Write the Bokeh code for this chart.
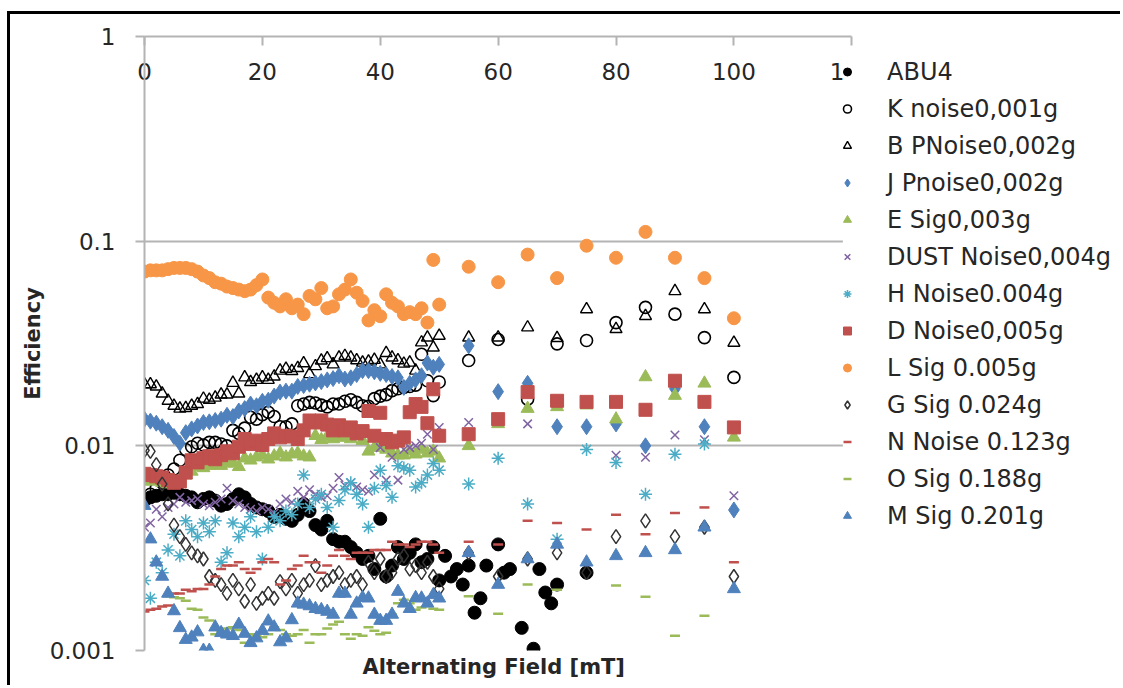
import numpy as np
from bokeh.plotting import figure
from bokeh.models import FixedTicker, Legend, LegendItem, Range1d, BoxAnnotation, Title
from bokeh.embed import file_html
from bokeh.resources import INLINE

nan = float("nan")

# x positions (mT)
X_DENSE = list(range(0, 51))
X_SPARSE = [55, 60, 65, 70, 75, 80, 85, 90, 95, 100]
X_ABU4 = list(range(0, 51)) + [51, 52, 53, 54, 55, 56, 57, 58, 60, 61, 62, 64, 66, 67, 68, 69, 70, 75]
X_TICKS = [0, 20, 40, 60, 80, 100, 120]
X_AXIS_END = 120
Y_TICKS = [0.001, 0.01, 0.1, 1]
Y_LABELS = ["0.001", "0.01", "0.1", "1"]

ABU4 = [0.0054, 0.0056, 0.0057, 0.0058, 0.0058, 0.0059, 0.0058, 0.0057, 0.0056, 0.0053,
        0.0055, 0.0056, 0.0054, 0.0051, 0.0052, 0.0055, 0.0058, 0.0056, 0.0052, 0.0050,
        0.0049, 0.0048, 0.0045, 0.0046, 0.0044, 0.0043, 0.0046, 0.0052, 0.0048, 0.0041,
        0.0039, 0.0043, 0.0035, 0.0034, 0.0034, 0.0032, 0.0030, 0.0028, 0.0029, 0.0025,
        0.0044, 0.0023, 0.0026, 0.0032, 0.0028, 0.0030, 0.0033, 0.0027, 0.0028, 0.0032,
        0.0022,
        0.0029, 0.0023, 0.0025, 0.0021, 0.0026, 0.00153, 0.0018, 0.0026, 0.0033, 0.0024,
        0.0025, 0.00129, 0.00102, 0.0025, 0.00192, 0.0017, 0.0021, 0.0024]

K_DENSE = [0.0055, 0.0058, 0.0062, 0.0066, 0.0072, 0.0077, 0.0085, 0.0096, 0.0099, 0.0103,
           0.0101, 0.0104, 0.0104, 0.0102, 0.0100, 0.0119, 0.0115, 0.0122, 0.0138, 0.0135,
           0.0142, 0.0146, 0.0139, 0.0124, 0.0124, 0.0128, 0.0157, 0.0160, 0.0163, 0.0162,
           0.0158, 0.0155, 0.0160, 0.0160, 0.0165, 0.0168, 0.0163, 0.0157, 0.0156, 0.0170,
           0.0175, 0.0178, 0.0186, 0.0190, 0.0193, 0.0195, 0.0198, 0.0280, 0.0208, 0.0176,
           0.0205]
K_SPARSE = [0.0261, 0.0331, 0.0169, 0.0315, 0.0327, 0.0400, 0.0475, 0.0440, 0.0338, 0.0216]

B_DENSE = [0.0200, 0.0200, 0.0195, 0.0180, 0.0166, 0.0157, 0.0152, 0.0153, 0.0157, 0.0160,
           0.0170, 0.0168, 0.0172, 0.0178, 0.0178, 0.0203, 0.0180, 0.0216, 0.0205, 0.0210,
           0.0216, 0.0210, 0.0218, 0.0233, 0.0238, 0.0232, 0.0240, 0.0253, 0.0224, 0.0245,
           0.0261, 0.0268, 0.0250, 0.0270, 0.0275, 0.0270, 0.0262, 0.0255, 0.0258, 0.0263,
           0.0250, 0.0284, 0.0270, 0.0262, 0.0252, 0.0255, 0.0233, 0.0320, 0.0338, 0.0302,
           0.0345]
B_SPARSE = [0.0338, 0.0338, 0.0379, 0.0336, 0.0465, 0.0372, 0.0431, 0.0570, 0.0465, 0.0319]

J_DENSE = [0.0135, 0.0132, 0.0129, 0.0124, 0.0119, 0.0111, 0.0103, 0.0116, 0.0121, 0.0125,
           0.0130, 0.0131, 0.0133, 0.0135, 0.0141, 0.0139, 0.0148, 0.0152, 0.0160, 0.0157,
           0.0165, 0.0167, 0.0175, 0.0183, 0.0185, 0.0185, 0.0195, 0.0197, 0.0200, 0.0203,
           0.0206, 0.0210, 0.0213, 0.0220, 0.0212, 0.0215, 0.0223, 0.0233, 0.0233, 0.0230,
           0.0226, 0.0223, 0.0218, 0.0215, 0.0193, 0.0202, 0.0210, 0.0220, 0.0254, 0.0242,
           0.0250]
J_SPARSE = [0.0308, 0.0184, 0.0202, 0.0124, 0.0124, 0.0128, 0.0100, 0.0190, 0.0124, 0.00486]

E_DENSE = [0.0068, 0.0067, 0.0068, 0.0066, 0.0065, 0.0066, 0.0068, 0.0072, 0.0075, 0.0079,
           0.0078, 0.0080, 0.0081, 0.0080, 0.0082, 0.0083, 0.0079, 0.0087, 0.0085, 0.0088,
           0.0090, 0.0086, 0.0089, 0.0092, 0.0088, 0.0091, 0.0092, 0.0089, 0.0088, 0.0112,
           0.0107, 0.0111, 0.0108, 0.0110, 0.0110, 0.0108, 0.0112, 0.0106, 0.0094, 0.0098,
           0.0101, 0.0096, 0.0092, 0.0090, 0.0090, 0.0094, 0.0091, 0.0096, 0.0092, 0.0094,
           0.0087]
E_SPARSE = [0.0100, 0.0128, 0.0152, 0.0155, 0.0158, 0.0135, 0.0217, 0.0176, 0.0202, 0.0110]

DUST_DENSE = [0.0040, 0.0042, 0.0049, 0.0045, 0.0050, 0.0052, 0.0056, 0.0053, 0.0054, 0.0055,
              0.0052, 0.0051, 0.0053, 0.0055, 0.0062, 0.0054, 0.0052, 0.0050, 0.0049, 0.0048,
              0.0050, 0.0049, 0.0047, 0.0052, 0.0055, 0.0053, 0.0060, 0.0056, 0.0061, 0.0058,
              0.0056, 0.0057, 0.0062, 0.0070, 0.0064, 0.0066, 0.0063, 0.0061, 0.0060, 0.0072,
              0.0098, 0.0068, 0.0088, 0.0068, 0.0096, 0.0098, 0.0100, 0.0103, 0.0114, 0.0096,
              0.0123]
DUST_SPARSE = [0.0130, nan, 0.0128, nan, nan, 0.0090, 0.0088, 0.0113, 0.0107, 0.0057]

H_DENSE = [0.0022, 0.0018, 0.0027, 0.0024, 0.0031, 0.0037, 0.0029, 0.0043, 0.0039, 0.0036,
           0.0042, 0.0038, 0.0043, 0.0027, 0.0030, 0.0042, 0.0036, 0.0040, 0.0045, 0.0038,
           0.0028, 0.0040, 0.0045, 0.0043, 0.0048, 0.0046, 0.0052, 0.0072, 0.0050, 0.0055,
           0.0058, 0.0050, 0.0040, 0.0054, 0.0061, 0.0066, 0.0058, 0.0052, 0.0040, 0.0062,
           0.0076, 0.0064, 0.0056, 0.0080, 0.0078, 0.0076, 0.0063, 0.0066, 0.0072, 0.0082,
           0.0076]
H_SPARSE = [0.0065, 0.0087, 0.0052, 0.0035, 0.0096, 0.0083, 0.0058, 0.0091, 0.0102, nan]

D_DENSE = [0.0073, 0.0072, 0.0071, 0.0070, 0.0068, 0.0066, 0.0067, 0.0074, 0.0085, 0.0083,
           0.0087, 0.0089, 0.0086, 0.0090, 0.0094, 0.0092, 0.0099, 0.0108, 0.0102, 0.0106,
           0.0101, 0.0108, 0.0115, 0.0110, 0.0112, 0.0111, 0.0108, 0.0119, 0.0133, 0.0130,
           0.0133, 0.0127, 0.0119, 0.0126, 0.0119, 0.0123, 0.0115, 0.0118, 0.0148, 0.0112,
           0.0145, 0.0108, 0.0104, 0.0106, 0.0110, 0.0146, 0.0160, 0.0155, 0.0129, 0.0189,
           0.0112]
D_SPARSE = [0.0114, 0.0135, 0.0183, 0.0166, 0.0164, 0.0164, 0.0150, 0.0208, 0.0164, 0.0123]

L_DENSE = [0.071, 0.072, 0.072, 0.072, 0.073, 0.074, 0.074, 0.074, 0.073, 0.071,
           0.068, 0.066, 0.063, 0.062, 0.060, 0.059, 0.058, 0.057, 0.058, 0.061,
           0.065, 0.053, 0.050, 0.048, 0.052, 0.047, 0.049, 0.044, 0.054, 0.052,
           0.059, 0.047, 0.048, 0.055, 0.058, 0.065, 0.056, 0.051, 0.041, 0.046,
           0.043, 0.055, 0.050, 0.048, 0.044, 0.045, 0.044, 0.047, 0.040, 0.081,
           0.049]
L_SPARSE = [0.075, 0.063, 0.086, 0.066, 0.095, 0.083, 0.111, 0.083, 0.066, 0.042]

G_DENSE = [0.0095, 0.0094, 0.0081, 0.0065, 0.0052, 0.0041, 0.0036, 0.0033, 0.0030, 0.0029,
           0.0028, 0.0023, 0.0022, 0.0021, 0.0019, 0.0022, 0.0020, 0.00174, 0.0021, 0.0017,
           0.0018, 0.0019, 0.0018, 0.00217, 0.0020, 0.0022, 0.0019, 0.0021, 0.0022, 0.0026,
           0.0021, 0.0022, 0.0023, 0.0024, 0.0021, 0.0022, 0.0023, 0.0021, 0.0027, 0.0024,
           0.0028, 0.0023, 0.0024, 0.0028, 0.0029, 0.0025, 0.0026, 0.0024, 0.0027, 0.0023,
           0.0020]
G_SPARSE = [0.0030, 0.0023, 0.0028, 0.0030, 0.0024, 0.0036, 0.0043, 0.0036, 0.0040, 0.0023]

N_DENSE = [0.00155, 0.00158, 0.0016, 0.00164, 0.00166, 0.0019, 0.0019, 0.00198, 0.00195, 0.0020,
           0.0020, 0.0021, 0.0023, 0.0025, 0.0026, 0.0026, 0.0027, 0.0025, 0.0024, 0.0025,
           0.0027, 0.0028, 0.0027, 0.0021, 0.0022, 0.0025, 0.0026, 0.0029, 0.0027, 0.0027,
           0.0024, 0.0026, 0.0029, 0.0031, 0.0029, 0.0028, 0.0030, 0.0030, 0.0030, 0.0031,
           0.0031, 0.0031, 0.0034, 0.0033, 0.0033, 0.0032, 0.0033, 0.0034, 0.0034, 0.0033,
           0.0030]
N_SPARSE = [0.0034, 0.0033, 0.0043, 0.0042, 0.0039, 0.0046, 0.0037, 0.0047, 0.0050, 0.0027]

O_DENSE = [nan, nan, nan, nan, 0.00184, 0.00182, 0.0018, 0.00175, 0.0016, 0.00158,
           0.00145, 0.0014, 0.0012, 0.00124, 0.00128, 0.0013, 0.00126, 0.00109, 0.0012, 0.00118,
           0.00116, 0.0012, 0.0013, 0.00126, 0.0012, 0.00118, 0.0012, 0.00126, 0.00109, 0.0012,
           0.0012, 0.00128, 0.00134, 0.00138, 0.0012, 0.00114, 0.0012, 0.00118, 0.0013, 0.00125,
           0.0012, 0.00122, 0.0015, 0.0017, 0.00177, 0.0017, 0.00158, 0.00162, 0.00165, 0.0016,
           0.00158]
O_SPARSE = [0.00184, 0.00151, 0.0021, 0.00198, nan, 0.00208, 0.00183, 0.00118, 0.00148, nan]

M_DENSE = [0.0051, 0.0035, 0.0027, 0.0023, 0.0019, 0.00156, 0.00129, 0.00113, 0.00116, 0.00123,
           0.0010, 0.0010, 0.0013, 0.00122, 0.0012, 0.00118, 0.00134, 0.00121, 0.00109, 0.00115,
           0.00125, 0.00139, 0.0013, 0.0011, 0.00115, 0.00141, 0.0017, 0.00168, 0.00165, 0.0016,
           0.00158, 0.00155, 0.0015, 0.0019, 0.0019, 0.0015, 0.0017, 0.00181, 0.0018, 0.0015,
           0.0014, 0.0014, 0.0015, 0.00194, 0.0017, 0.0016, 0.00181, 0.0018, 0.0017, 0.00187,
           0.0018]
M_SPARSE = [0.0030, 0.0021, 0.0028, 0.0033, 0.0027, 0.0029, 0.0030, 0.0031, 0.0040, 0.0020]

FONT = "DejaVu Sans"
TXT = "#262626"
GRID = "#b4b4b4"

# The frame runs on to the right edge so the legend (which overlaps the "120" label,
# as in the original) is not clipped; the axis itself stops at 120.
p = figure(width=1113, height=674,
           x_range=Range1d(0, 166.1), y_range=Range1d(0.001, 1),
           y_axis_type="log", x_axis_location="above",
           output_backend="svg", toolbar_location=None,
           min_border_left=134, min_border_right=0,
           min_border_top=22, min_border_bottom=38,
           styles={"border-left": "3px solid black", "border-top": "3px solid black",
                   "margin-left": "7px", "margin-top": "11px"})
p.outline_line_color = None
p.background_fill_color = "white"
p.border_fill_color = "white"

# top x axis (labels sit below the line, as in the original)
xa = p.xaxis[0]
xa.bounds = (0, X_AXIS_END)
xa.ticker = FixedTicker(ticks=X_TICKS)
xa.axis_line_color = GRID
xa.axis_line_width = 2
xa.major_tick_in = 9
xa.major_tick_out = 0
xa.major_tick_line_color = GRID
xa.major_tick_line_width = 2
xa.minor_tick_line_color = None
xa.major_label_standoff = -43
xa.major_label_text_font = FONT
xa.major_label_text_font_size = "23px"
xa.major_label_text_color = TXT

ya = p.yaxis[0]
ya.ticker = FixedTicker(ticks=Y_TICKS)
ya.major_label_overrides = {t: s for t, s in zip(Y_TICKS, Y_LABELS)}
ya.axis_line_color = GRID
ya.axis_line_width = 2
ya.major_tick_in = 0
ya.major_tick_out = 9
ya.major_tick_line_color = GRID
ya.major_tick_line_width = 2
ya.minor_tick_line_color = None
ya.major_label_standoff = 20
ya.major_label_text_font = FONT
ya.major_label_text_font_size = "23px"
ya.major_label_text_color = TXT
ya.axis_label = "Efficiency"
ya.axis_label_text_font = FONT
ya.axis_label_text_font_style = "bold"
ya.axis_label_text_font_size = "21px"
ya.axis_label_text_color = TXT
ya.axis_label_standoff = 2

# x-axis title, placed under the 0-120 span of the axis
p.add_layout(Title(text="Alternating Field [mT]", align="left", offset=218, standoff=4,
                   text_font=FONT, text_font_style="bold", text_font_size="21px",
                   text_color=TXT), "below")

p.xgrid.visible = False
p.ygrid.ticker = FixedTicker(ticks=Y_TICKS)
p.ygrid.grid_line_color = GRID
p.ygrid.grid_line_width = 2
p.ygrid.minor_grid_line_color = None

# the legend panel is blank: it hides the grid and the "20" of the last tick label
p.add_layout(BoxAnnotation(left=X_AXIS_END - 1.5, top=0.85, fill_color="white", fill_alpha=1.0,
                           line_color=None))
p.add_layout(BoxAnnotation(left=X_AXIS_END - 1.5, fill_color="white", fill_alpha=1.0,
                           line_color=None, level="underlay"))

BLUE = "#4F81BD"
RED = "#C0504D"
GREEN = "#9BBB59"
PURPLE = "#8064A2"
CYAN = "#4BACC6"
ORANGE = "#F79646"


def series(xd, yd, xs, ys):
    return list(xd) + list(xs), list(yd) + list(ys)


specs = [
    ("ABU4", X_ABU4, ABU4, dict(marker="circle", size=13, fill_color="black", line_color="black")),
    ("K noise0,001g", *series(X_DENSE, K_DENSE, X_SPARSE, K_SPARSE),
     dict(marker="circle", size=12, fill_color=None, line_color="black", line_width=1.6)),
    ("B PNoise0,002g", *series(X_DENSE, B_DENSE, X_SPARSE, B_SPARSE),
     dict(marker="triangle", size=12, fill_color=None, line_color="black", line_width=1.4)),
    ("J Pnoise0,002g", *series(X_DENSE, J_DENSE, X_SPARSE, J_SPARSE),
     dict(marker="diamond", size=16, fill_color=BLUE, line_color=BLUE)),
    ("E Sig0,003g", *series(X_DENSE, E_DENSE, X_SPARSE, E_SPARSE),
     dict(marker="triangle", size=13, fill_color=GREEN, line_color=GREEN)),
    ("DUST Noise0,004g", *series(X_DENSE, DUST_DENSE, X_SPARSE, DUST_SPARSE),
     dict(marker="x", size=12, line_color=PURPLE, line_width=1.5)),
    ("H Noise0.004g", *series(X_DENSE, H_DENSE, X_SPARSE, H_SPARSE),
     dict(marker="asterisk", size=13, line_color=CYAN, line_width=1.5)),
    ("D Noise0,005g", *series(X_DENSE, D_DENSE, X_SPARSE, D_SPARSE),
     dict(marker="square", size=13, fill_color=RED, line_color=RED)),
    ("L Sig 0.005g", *series(X_DENSE, L_DENSE, X_SPARSE, L_SPARSE),
     dict(marker="circle", size=13, fill_color=ORANGE, line_color=ORANGE)),
    ("G Sig 0.024g", *series(X_DENSE, G_DENSE, X_SPARSE, G_SPARSE),
     dict(marker="diamond", size=14, fill_color=None, line_color="#333333", line_width=1.5)),
    ("N Noise 0.123g", *series(X_DENSE, N_DENSE, X_SPARSE, N_SPARSE),
     dict(marker="dash", size=10, line_color=RED, line_width=2.5)),
    ("O Sig 0.188g", *series(X_DENSE, O_DENSE, X_SPARSE, O_SPARSE),
     dict(marker="dash", size=10, line_color=GREEN, line_width=2.5)),
    ("M Sig 0.201g", *series(X_DENSE, M_DENSE, X_SPARSE, M_SPARSE),
     dict(marker="triangle", size=13, fill_color=BLUE, line_color=BLUE)),
]

items = []
for name, xs, ys, kw in specs:
    r = p.scatter(x=np.array(xs, dtype=float), y=np.array(ys, dtype=float), **kw)
    items.append(LegendItem(label=name, renderers=[r]))

legend = Legend(items=items, location=(693, 116), padding=0, margin=0, spacing=0,
                glyph_width=20, glyph_height=37, label_height=37, label_standoff=30,
                label_text_font=FONT, label_text_font_size="24px", label_text_color=TXT,
                background_fill_alpha=0.0, border_line_color=None)
p.add_layout(legend, "center")

open("out.html", "w").write(file_html(p, INLINE))
